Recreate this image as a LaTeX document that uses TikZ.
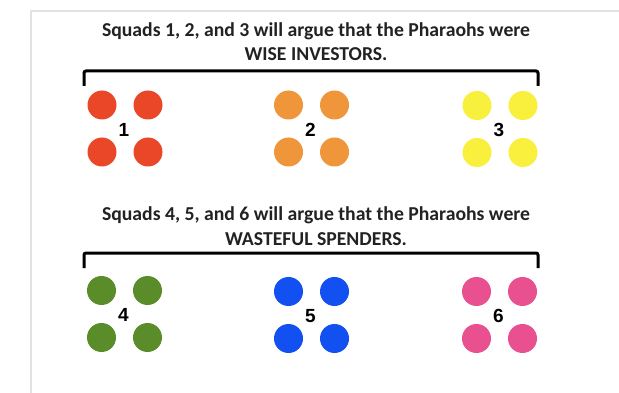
\documentclass[tikz,border=0pt]{standalone}
\usepackage{fontspec}
\setmainfont{Carlito}
\newfontfamily\digitfont{Liberation Sans}
\usepackage{xcolor}
\usepackage{tikz}
\definecolor{squadRed}{HTML}{EA4628}
\definecolor{squadOrange}{HTML}{F0963A}
\definecolor{squadYellow}{HTML}{F8F03C}
\definecolor{squadGreen}{HTML}{5A8C2A}
\definecolor{squadBlue}{HTML}{1250F2}
\definecolor{squadPink}{HTML}{E9508F}
\definecolor{pageEdge}{HTML}{E2E2E2}
\definecolor{inkGray}{HTML}{222222}

\begin{document}
\begin{tikzpicture}[x=1pt, y=-1pt,
    heading/.style={font=\fontsize{19.7}{22}\selectfont\bfseries, text=inkGray, inner sep=0pt},
    squadnum/.style={font=\digitfont\bfseries\fontsize{19}{20}\selectfont, text=black, inner sep=0pt},
    bracket/.style={line width=3pt, rounded corners=2pt}]
    \useasboundingbox (0,0) rectangle (619,393);
    \fill[white] (0,0) rectangle (619,393);
    % page edge
    \draw[pageEdge, line width=1.5pt] (619,11) -- (31,11) -- (31,393);
    % first half
    \node[heading] (claimA) at (316,31) {Squads 1, 2, and 3 will argue that the Pharaohs were};
    \node[heading] (claimAend) at (316,54) {WISE INVESTORS.};
    \draw[bracket] (84,86) |- (538,71) -- (538,86);
    % second half
    \node[heading] (claimB) at (316,215) {Squads 4, 5, and 6 will argue that the Pharaohs were};
    \node[heading] (claimBend) at (316,239) {WASTEFUL SPENDERS.};
    \draw[bracket] (84,268) |- (538,253) -- (538,268);
    % squads
    \foreach \cx/\cy/\col/\num in {125/128.5/squadRed/1, 311.5/128.5/squadOrange/2, 500/129/squadYellow/3,
                                   124.5/314/squadGreen/4, 311.5/315/squadBlue/5, 499.5/315/squadPink/6} {
        \foreach \dx in {-23,23}
            \foreach \dy in {-23.5,23.5}
                \fill[\col] (\cx+\dx,\cy+\dy) circle (14.5);
        \node[squadnum] (squad\num) at (\cx-1,\cy+1) {\num};
    }
\end{tikzpicture}
\end{document}
